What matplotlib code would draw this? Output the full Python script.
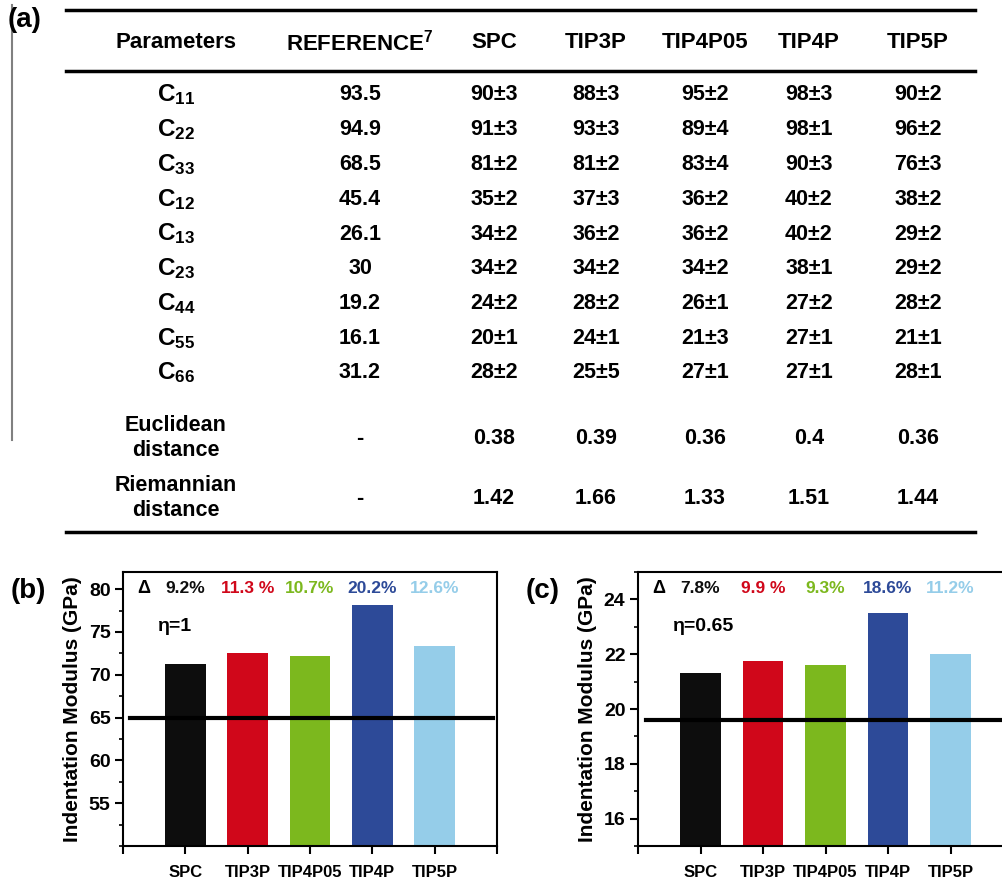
import numpy as np
import matplotlib
matplotlib.use("Agg")
import matplotlib.pyplot as plt
from matplotlib.lines import Line2D
from matplotlib.ticker import MultipleLocator

plt.rcParams['font.family'] = ['Liberation Sans', 'DejaVu Sans']
plt.rcParams['font.weight'] = 'bold'
plt.rcParams['axes.labelweight'] = 'bold'
plt.rcParams['mathtext.default'] = 'regular'

# ---- table (a) data ----
col_heads = ['Parameters', 'REFERENCE$^{7}$', 'SPC', 'TIP3P', 'TIP4P05', 'TIP4P', 'TIP5P']
params = ['C$_{11}$', 'C$_{22}$', 'C$_{33}$', 'C$_{12}$', 'C$_{13}$', 'C$_{23}$',
          'C$_{44}$', 'C$_{55}$', 'C$_{66}$']
reference = ['93.5', '94.9', '68.5', '45.4', '26.1', '30', '19.2', '16.1', '31.2']
spc     = ['90±3', '91±3', '81±2', '35±2', '34±2', '34±2', '24±2', '20±1', '28±2']
tip3p   = ['88±3', '93±3', '81±2', '37±3', '36±2', '34±2', '28±2', '24±1', '25±5']
tip4p05 = ['95±2', '89±4', '83±4', '36±2', '36±2', '34±2', '26±1', '21±3', '27±1']
tip4p   = ['98±3', '98±1', '90±3', '40±2', '40±2', '38±1', '27±2', '27±1', '27±1']
tip5p   = ['90±2', '96±2', '76±3', '38±2', '29±2', '29±2', '28±2', '21±1', '28±1']
euclid  = ['-', '0.38', '0.39', '0.36', '0.4', '0.36']
rieman  = ['-', '1.42', '1.66', '1.33', '1.51', '1.44']

# ---- bar chart data ----
models = ['SPC', 'TIP3P', 'TIP4P05', 'TIP4P', 'TIP5P']
colors = ['#0d0d0d', '#d0071a', '#7cb81e', '#2d4a98', '#95cde9']
mod_b = [71.2, 72.5, 72.2, 78.2, 73.3]
ref_b = 65.0
delta_b = ['9.2%', '11.3 %', '10.7%', '20.2%', '12.6%']
mod_c = [21.3, 21.77, 21.62, 23.5, 22.0]
ref_c = 19.6
delta_c = ['7.8%', '9.9 %', '9.3%', '18.6%', '11.2%']

W, H = 1002, 884
fig = plt.figure(figsize=(W / 100, H / 100), dpi=100)

# table drawn in pixel coordinates
tab = fig.add_axes([0, 0, 1, 1])
tab.set_xlim(0, W)
tab.set_ylim(H, 0)
tab.axis('off')

tab.add_line(Line2D([12, 12], [5, 440], color='#808080', lw=1.5))
for yy in [10, 71, 532]:
    tab.add_line(Line2D([66, 975], [yy, yy], color='black', lw=2.5))
tab.text(8, 20, '(a)', fontsize=20, ha='left', va='center')

xs = [176, 360, 494, 596, 705, 809, 918]
fs = 15.5
for x, h in zip(xs, col_heads):
    tab.text(x, 43, h, fontsize=fs + 0.5, ha='center', va='center')

cols = [reference, spc, tip3p, tip4p05, tip4p, tip5p]
row_y = 95
for i, p in enumerate(params):
    y = row_y + i * 34.75
    tab.text(xs[0], y, p, fontsize=fs + 2, ha='center', va='center')
    for x, col in zip(xs[1:], cols):
        tab.text(x, y, col[i], fontsize=fs, ha='center', va='center')

tab.text(xs[0], 438, 'Euclidean\ndistance', fontsize=fs, ha='center', va='center',
         linespacing=1.2)
tab.text(xs[0], 498, 'Riemannian\ndistance', fontsize=fs, ha='center', va='center',
         linespacing=1.2)
for x, e, r in zip(xs[1:], euclid, rieman):
    tab.text(x, 438, e, fontsize=fs, ha='center', va='center')
    tab.text(x, 498, r, fontsize=fs, ha='center', va='center')


def bar_panel(rect, vals, ref, deltas, eta, ylim, major, minor, label):
    ax = fig.add_axes(rect)
    xpos = np.arange(1, len(models) + 1)
    ax.bar(xpos, vals, width=0.65, color=colors, zorder=2)
    ax.axhline(ref, xmin=0.02, xmax=0.99, color='black', lw=3, zorder=3)
    ax.set_xlim(0, 6)
    ax.set_ylim(*ylim)
    ax.set_xticks([0] + list(xpos) + [6])
    ax.set_xticklabels([''] + models + [''], fontsize=12)
    ax.yaxis.set_major_locator(MultipleLocator(major))
    ax.yaxis.set_minor_locator(MultipleLocator(minor))
    ax.tick_params(axis='x', direction='out', length=6, width=1.5, pad=8)
    ax.tick_params(axis='y', which='major', direction='out', length=6, width=1.5,
                   pad=3)
    ax.tick_params(axis='y', which='minor', direction='out', length=3, width=1.2)
    yticks = [t for t in ax.get_yticks() if ylim[0] < t < ylim[1]]
    ax.set_yticks(yticks)
    ax.set_yticklabels(['%g' % t for t in yticks], fontsize=14)
    for s in ax.spines.values():
        s.set_linewidth(1.5)
    ax.set_ylabel('Indentation Modulus (GPa)', fontsize=15, labelpad=5)
    ax.text(0.33, 0.94, 'Δ', transform=ax.get_xaxis_transform(),
            fontsize=13, ha='center', va='center')
    for x, d, c in zip(xpos, deltas, colors):
        ax.text(x, 0.94, d, transform=ax.get_xaxis_transform(), color=c,
                fontsize=12.5, ha='center', va='center')
    ax.text(0.56, 0.80, eta, transform=ax.get_xaxis_transform(),
            fontsize=14, ha='left', va='center')
    fig.text(rect[0] - 0.112, rect[1] + rect[3] * 0.93, label, fontsize=20,
             ha='left', va='center')
    return ax


bar_panel([123 / W, 38 / H, 374 / W, 274 / H], mod_b, ref_b, delta_b, 'η=1',
          (50, 82), 5, 2.5, '(b)')
bar_panel([638 / W, 38 / H, 375 / W, 274 / H], mod_c, ref_c, delta_c, 'η=0.65',
          (15, 25), 2, 1, '(c)')

fig.savefig('out.png', dpi=100)
